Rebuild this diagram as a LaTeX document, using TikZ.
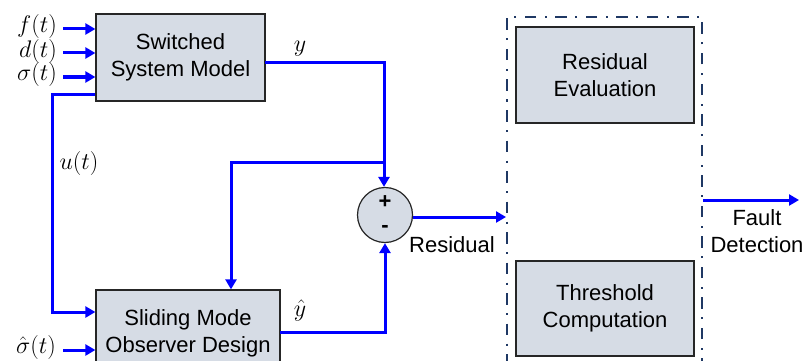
\RequirePackage{fix-cm}
\documentclass[tikz,border=0pt]{standalone}
\usepackage{fontspec}
\setmainfont{Liberation Sans}
\usetikzlibrary{arrows.meta,calc}
\definecolor{boxfill}{HTML}{D6DCE5}
\definecolor{navy}{HTML}{1F3864}
\begin{document}
\begin{tikzpicture}[x=1pt,y=-1pt,
  blk/.style={draw=black!85,line width=1.3pt,fill=boxfill,align=center,inner sep=0pt,
    font=\fontsize{22}{26.5}\selectfont},
  sig/.style={blue,line width=3pt},
  arr/.style={sig,-{Triangle[length=10pt,width=11pt]}},
  lbl/.style={font=\fontsize{24}{28}\selectfont,inner sep=0pt},
  txt/.style={font=\fontsize{22}{26.5}\selectfont,align=center,inner sep=0pt}]
\useasboundingbox (0,0) rectangle (803,361);
\begin{scope}
\clip (0,0) rectangle (803,361);
% dashed region
\draw[navy,line width=2.6pt,dash pattern=on 2pt off 8.5pt on 11.5pt off 8.5pt] (702,380) -- (702,17) -- (507,17) -- (507,380);
% blocks
\node[blk,minimum width=169pt,minimum height=87pt] (ssm) at (180.5,57.5) {Switched\\System Model};
\node[blk,minimum width=184pt,minimum height=87pt] (smo) at (188,333.5) {Sliding Mode\\Observer Design};
\node[blk,minimum width=178pt,minimum height=96pt] (re) at (605,75) {Residual\\Evaluation};
\node[blk,minimum width=178pt,minimum height=95pt] (tc) at (605,308.5) {Threshold\\Computation};
\node[circle,draw=black!85,line width=1.2pt,fill=boxfill,minimum size=55pt,inner sep=0pt] (sum) at (385,215) {};
\node[font=\fontsize{22}{22}\selectfont\bfseries,inner sep=0pt] (plus) at (385,202) {+};
\node[font=\fontsize{22}{22}\selectfont\bfseries,inner sep=0pt] (minus) at (385,229) {-};
% inputs
\node[lbl,anchor=east] (f) at (57,27) {$f(t)$};
\node[lbl,anchor=east] (d) at (57,52) {$d(t)$};
\node[lbl,anchor=east] (s) at (57,75) {$\sigma(t)$};
\node[lbl,anchor=east] (sh) at (56,347) {$\hat{\sigma}(t)$};
\coordinate (fa) at (63,29);
\coordinate (da) at (63,53);
\coordinate (sa) at (63,77);
\coordinate (sha) at (63,350);
\draw[arr] (fa) -- (fa -| ssm.west);
\draw[arr] (da) -- (da -| ssm.west);
\draw[arr] (sa) -- (sa -| ssm.west);
\draw[arr] (sha) -- (sha -| smo.west);
% u(t)
\coordinate (u1) at (52,94);
\coordinate (u2) at (52,312);
\draw[arr] (u1 -| ssm.west) -- (u1) -- (u2) -- (u2 -| smo.west);
\node[lbl] (ul) at (79,163) {$u(t)$};
% y
\coordinate (y0) at (265,63);
\coordinate (J) at (384,162);
\coordinate (fb) at (231,162);
\draw[sig] (y0) -- (y0 -| J) -- (J);
\draw[arr] (J) -- (J |- sum.north);
\draw[arr] (J) -- (fb) -- (fb |- smo.north);
\node[lbl] (yl) at (300,49) {$y$};
% y hat
\coordinate (yh) at (280,332);
\draw[arr] (yh) -- (yh -| sum.south) -- (sum.south);
\node[lbl] (yhl) at (300,310) {$\hat{y}$};
% residual
\coordinate (rt) at (506,217);
\draw[arr] (sum.east |- rt) -- (rt);
\node[txt] (rl) at (452,245) {Residual};
% fault detection
\coordinate (fd0) at (703,200);
\coordinate (fd1) at (799,200);
\draw[arr] (fd0) -- (fd1);
\node[txt] (fdl) at (757,231) {Fault\\Detection};
\end{scope}
\end{tikzpicture}
\end{document}
